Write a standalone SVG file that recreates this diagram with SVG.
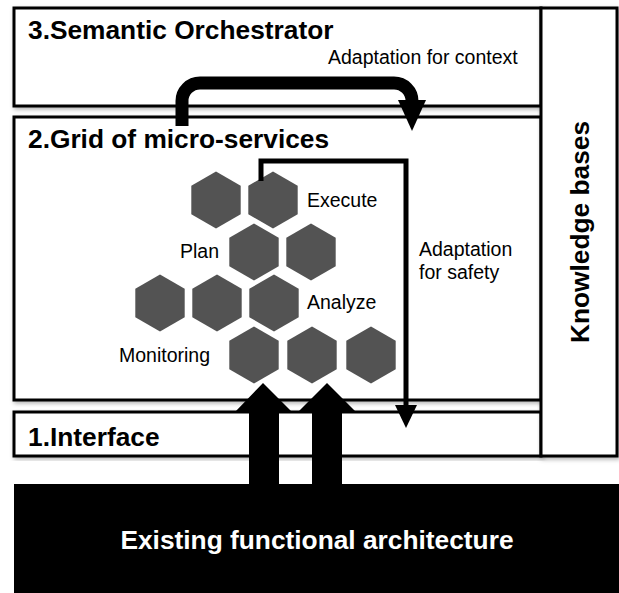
<svg xmlns="http://www.w3.org/2000/svg" width="619" height="593" viewBox="0 0 619 593">
<style>
.box{fill:#fff;stroke:#000;stroke-width:3;filter:url(#sh)}
.title{font-family:"Liberation Sans",Arial,sans-serif;font-weight:bold;font-size:26.3px;fill:#000}
.lbl{font-family:"Liberation Sans",Arial,sans-serif;font-size:19.5px;fill:#000}
.hex{fill:#535353}
</style>
<defs>
<filter id="sh" x="-5%" y="-5%" width="110%" height="115%">
<feDropShadow dx="1.5" dy="2" stdDeviation="2" flood-color="#000" flood-opacity="0.3"/>
</filter>
<polygon id="hx" points="0,-28.5 24.7,-14.25 24.7,14.25 0,28.5 -24.7,14.25 -24.7,-14.25"/>
</defs>
<rect x="0" y="0" width="619" height="593" fill="#fff"/>
<g id="layer3">
<rect class="box" x="14" y="8" width="527" height="98"/>
<text class="title" x="28" y="39">3.Semantic Orchestrator</text>
</g>
<g id="layer2">
<rect class="box" x="14" y="117" width="527" height="283"/>
<text class="title" x="28" y="148">2.Grid of micro-services</text>
</g>
<g id="layer1">
<rect class="box" x="14" y="412" width="527" height="44"/>
<text class="title" x="28" y="446">1.Interface</text>
</g>
<g id="knowledge">
<rect class="box" x="541" y="8" width="76" height="448"/>
<text class="title" transform="translate(589,232) rotate(-90)" text-anchor="middle">Knowledge bases</text>
</g>
<g id="existing">
<rect x="14" y="484" width="605" height="109" fill="#000"/>
<text class="title" x="317" y="549" text-anchor="middle" style="fill:#fff">Existing functional architecture</text>
</g>
<g id="hexagons">
<use href="#hx" class="hex" x="216" y="200"/>
<use href="#hx" class="hex" x="273" y="200"/>
<use href="#hx" class="hex" x="254" y="252"/>
<use href="#hx" class="hex" x="311" y="252"/>
<use href="#hx" class="hex" x="160" y="303"/>
<use href="#hx" class="hex" x="217" y="303"/>
<use href="#hx" class="hex" x="274" y="303"/>
<use href="#hx" class="hex" x="254" y="355"/>
<use href="#hx" class="hex" x="312" y="355"/>
<use href="#hx" class="hex" x="371" y="355"/>
</g>
<g id="labels">
<text class="lbl" x="307" y="207">Execute</text>
<text class="lbl" x="180" y="258">Plan</text>
<text class="lbl" x="307" y="309">Analyze</text>
<text class="lbl" x="119" y="362">Monitoring</text>
</g>
<g id="connectors">
<path d="M182,126 V101 A18,18 0 0 1 200,83 H394 A18,18 0 0 1 412,101 V102" fill="none" stroke="#000" stroke-width="13"/>
<polygon points="398,100 426,100 412,131" fill="#000"/>
<text class="lbl" x="328" y="64">Adaptation for context</text>
<path d="M261,181 V161 H406 V406" fill="none" stroke="#000" stroke-width="5"/>
<polygon points="395,405 417,405 406,428" fill="#000"/>
<text class="lbl" x="419" y="256">Adaptation</text>
<text class="lbl" x="419" y="279">for safety</text>
<polygon points="263,383 292,412 279,412 279,485 249,485 249,412 235,412" fill="#000"/>
<polygon points="327,383 356,412 342,412 342,485 312,485 312,412 298,412" fill="#000"/>
</g>
</svg>
